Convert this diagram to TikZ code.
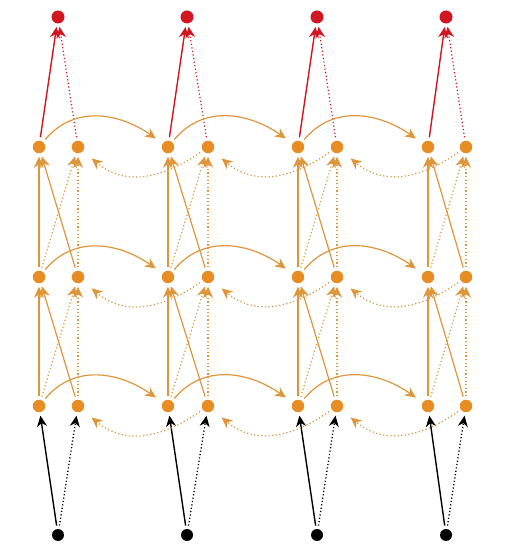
\documentclass[tikz,border=0pt]{standalone}
\usetikzlibrary{arrows.meta}
\definecolor{rnnorange}{RGB}{232,140,36}
\definecolor{rnnline}{RGB}{222,150,60}
\definecolor{rnnred}{RGB}{208,22,32}
\begin{document}
\begin{tikzpicture}[x=1pt,y=1pt,
  unit/.style={circle,inner sep=0pt,minimum size=12.5pt,outer sep=3.5pt},
  hid/.style={unit,fill=rnnorange},
  outu/.style={unit,fill=rnnred,minimum size=13pt},
  inu/.style={unit,fill=black,minimum size=12pt},
  tip/.style={-{Stealth[length=11pt,width=10pt,inset=3.5pt]}},
  solidor/.style={tip,draw=rnnline,line width=1.2pt},
  dotor/.style={tip,draw=rnnline,line width=1.2pt,dash pattern=on 1.2pt off 2.4pt},
  solidbk/.style={tip,draw=black,line width=1.4pt},
  dotbk/.style={tip,draw=black,line width=1.3pt,dash pattern=on 1.2pt off 2.2pt},
  solidrd/.style={tip,draw=rnnred,line width=1.4pt},
  dotrd/.style={tip,draw=rnnred,line width=1.2pt,dash pattern=on 1.2pt off 2.4pt}]
\useasboundingbox (0,0) rectangle (508,545);
% nodes
\foreach \i/\fx/\bx/\cx in {1/39/78/58,2/168/208/187,3/298/337/317,4/428/466/446}{
  \node[inu] (in\i) at (\cx,10) {};
  \node[outu] (out\i) at (\cx,528) {};
  \foreach \l/\y in {1/139,2/268,3/398}{
    \node[hid] (f\i\l) at (\fx,\y) {};
    \node[hid] (b\i\l) at (\bx,\y) {};
  }
}
% input and output connections
\foreach \i in {1,2,3,4}{
  \draw[solidbk] (in\i) -- (f\i1);
  \draw[dotbk] (in\i) -- (b\i1);
  \draw[solidrd] (f\i3) -- (out\i);
  \draw[dotrd] (b\i3) -- (out\i);
  \foreach \l/\m in {1/2,2/3}{
    \draw[solidor] (f\i\l) -- (f\i\m);
    \draw[solidor] (b\i\l) -- (f\i\m);
    \draw[dotor] (f\i\l) -- (b\i\m);
    \draw[dotor] (b\i\l) -- (b\i\m);
  }
}
% recurrent connections
\foreach \i/\j in {1/2,2/3,3/4}{
  \foreach \l in {1,2,3}{
    \draw[solidor,shorten >=5pt] (f\i\l) to[out=50,in=145,looseness=1.05] (f\j\l);
    \draw[dotor,shorten >=8pt] (b\j\l) to[out=-145,in=-40,looseness=1.1] (b\i\l);
  }
}
\end{tikzpicture}
\end{document}
